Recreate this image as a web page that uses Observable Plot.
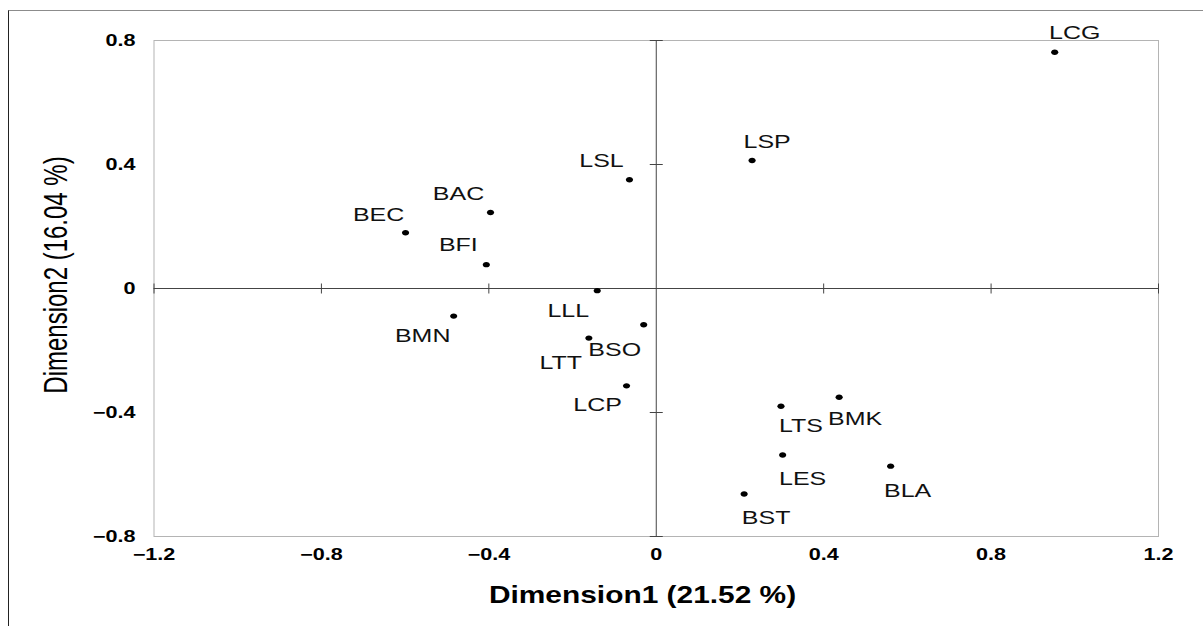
<!DOCTYPE html>
<html>
<head>
<meta charset="utf-8">
<script src="https://cdn.jsdelivr.net/npm/d3@7"></script>
<script src="https://cdn.jsdelivr.net/npm/@observablehq/plot@0.6"></script>
<style>
  html, body { margin: 0; padding: 0; background: #fff; }
  #wrap { position: relative; width: 1203px; height: 626px; overflow: hidden; }
  #outer { position: absolute; left: 8px; top: 10px; width: 1300px; height: 700px;
           border-top: 1px solid #8c8c8c; border-left: 1px solid #222; box-sizing: border-box; }
  #chart { position: absolute; left: 0; top: 0; }
</style>
</head>
<body>
<div id="wrap"><div id="outer"></div><div id="chart"></div></div>
<script>
// ---- data ----
const names = ["LCG","LSP","LSL","BAC","BEC","BFI","LLL","BSO","LTT","LCP","BMN","LTS","BMK","LES","BLA","BST"];
const dim1  = [0.952, 0.229, -0.064, -0.396, -0.599, -0.406, -0.141, -0.030, -0.161, -0.071, -0.484, 0.298, 0.437, 0.302, 0.560, 0.210];
const dim2  = [0.762, 0.413, 0.351, 0.245, 0.180, 0.077, -0.007, -0.117, -0.160, -0.314, -0.089, -0.380, -0.351, -0.537, -0.573, -0.663];
const xTicks = [-1.2, -0.8, -0.4, 0, 0.4, 0.8, 1.2];
const yTicks = [-0.8, -0.4, 0, 0.4, 0.8];
const xTitle = "Dimension1 (21.52 %)";
const yTitle = "Dimension2 (16.04 %)";

// label placement (pixel offset of label centre/baseline from its point)
const labelOffsets = {
  LCG: [20, -13], LSP: [15, -12], LSL: [-28, -13], BAC: [-32, -13], BEC: [-27, -12], BFI: [-28, -14],
  LLL: [-29, 26], BSO: [-29, 31], LTT: [-28, 31], LCP: [-29, 25], BMN: [-31, 26],
  LTS: [20, 26], BMK: [16, 28], LES: [20, 30], BLA: [17, 31], BST: [22, 30]
};

const table = names.map((n, i) => ({name: n, x: dim1[i], y: dim2[i]}));
const fmt = d => d === 0 ? "0" : d3.format(".1f")(d).replace("-", "\u2212");
const xMin = xTicks[0], yMin = yTicks[0];

const SX = 1.35; // horizontal stretch of the glyphs

const ellipse = {draw(ctx) {
  const rx = 3.6, ry = 2.7, k = 0.5523;
  ctx.moveTo(rx, 0);
  ctx.bezierCurveTo(rx, k*ry, k*rx, ry, 0, ry);
  ctx.bezierCurveTo(-k*rx, ry, -rx, k*ry, -rx, 0);
  ctx.bezierCurveTo(-rx, -k*ry, -k*rx, -ry, 0, -ry);
  ctx.bezierCurveTo(k*rx, -ry, rx, -k*ry, rx, 0);
  ctx.closePath();
}};
const vTick = {draw(ctx) { ctx.moveTo(0, -5); ctx.lineTo(0, 5); }};
const hTick = {draw(ctx) { ctx.moveTo(-6.5, 0); ctx.lineTo(6.5, 0); }};

const labelMarks = table.map(d => Plot.text([d], {
  x: "x", y: "y", text: "name",
  dx: labelOffsets[d.name][0], dy: labelOffsets[d.name][1],
  lineAnchor: "bottom", textAnchor: "middle",
  fontSize: 18.5, fill: "#111"
}));

const plot = Plot.plot({
  width: 1203, height: 626,
  marginLeft: 153.5, marginRight: 45, marginTop: 40, marginBottom: 90,
  style: {fontFamily: "'Liberation Sans', Arial, sans-serif", fontSize: "16px", background: "transparent", color: "#000"},
  x: {domain: [-1.2, 1.2], axis: null},
  y: {domain: [-0.8, 0.8], axis: null},
  marks: [
    Plot.frame({stroke: "#b4b4b4", strokeWidth: 1}),
    Plot.ruleY([0], {stroke: "#444", strokeWidth: 1}),
    Plot.ruleX([0], {stroke: "#444", strokeWidth: 1}),
    Plot.dot(xTicks.filter(v => v !== 0), {x: d => d, y: () => 0, symbol: vTick, stroke: "#444", fill: "none", strokeWidth: 1}),
    Plot.dot(yTicks.filter(v => v !== 0), {x: () => 0, y: d => d, symbol: hTick, stroke: "#444", fill: "none", strokeWidth: 1}),
    Plot.dot(table, {x: "x", y: "y", symbol: ellipse, fill: "#000", stroke: "none"}),
    ...labelMarks,
    // tick labels
    Plot.text(yTicks, {x: () => xMin, y: d => d, text: fmt, dx: -18.5, textAnchor: "end", lineAnchor: "middle",
                       fontWeight: "bold", fontSize: 16, fill: "#000"}),
    Plot.text(xTicks, {x: d => d, y: () => yMin, text: fmt, dy: 12, textAnchor: "middle", lineAnchor: "top",
                       fontWeight: "bold", fontSize: 16, fill: "#000"})
  ]
});
document.getElementById("chart").appendChild(plot);

// stretch glyphs horizontally around each text's anchor
d3.select(plot).selectAll("text").each(function() {
  const el = this;
  const t = el.getAttribute("transform") || "";
  const xa = el.getAttribute("x"), ya = el.getAttribute("y");
  let pre = "";
  if (xa !== null && isFinite(+xa)) { pre += ` translate(${+xa},0)`; el.removeAttribute("x"); }
  if (ya !== null && isFinite(+ya)) { pre += ` translate(0,${+ya})`; el.removeAttribute("y"); }
  el.setAttribute("transform", `${t}${pre} scale(${SX},1)`);
});

const svg = d3.select(plot);
svg.append("text")
  .attr("transform", `translate(642.5,603) scale(1.3,1)`)
  .attr("text-anchor", "middle")
  .attr("font-family", "'Liberation Sans', Arial, sans-serif")
  .attr("font-weight", "bold").attr("font-size", 23).attr("fill", "#000")
  .text(xTitle);
svg.append("text")
  .attr("transform", `translate(67,275) scale(${SX},1) rotate(-90)`)
  .attr("text-anchor", "middle")
  .attr("font-family", "'Liberation Sans', Arial, sans-serif")
  .attr("font-size", 24).attr("fill", "#000")
  .text(yTitle);
</script>
</body>
</html>
